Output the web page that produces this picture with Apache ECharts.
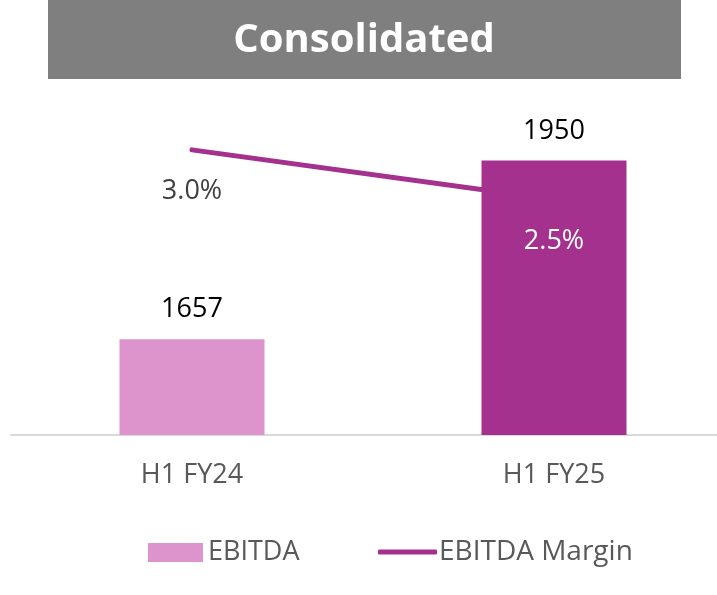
<!DOCTYPE html>
<html>
<head>
<meta charset="utf-8">
<script src="https://cdn.jsdelivr.net/npm/echarts@6/dist/echarts.min.js"></script>
<style>html,body{margin:0;padding:0;background:#fff}#c{width:717px;height:595px}</style>
</head>
<body>
<div id="c"></div>
<script>
var categories = ['H1 FY24', 'H1 FY25'];
var ebitda = [1657, 1950];
var ebitdaMargin = [3.0, 2.5];
var titleText = 'Consolidated';

var FONT = '"Open Sans", sans-serif';
var barColors = ['#DD94CC', '#A5318F'];
var lineColor = '#A5318F';
var marginLabelColors = ['#404040', '#ffffff'];

var chart = echarts.init(document.getElementById('c'));
chart.setOption({
  animation: false,
  graphic: [
    { type: 'rect', left: 48, top: 0, shape: { width: 633, height: 79 }, style: { fill: '#7F7F7F' } },
    { type: 'text', x: 364, y: 41, style: { text: titleText, fill: '#ffffff', font: 'bold 40px ' + FONT,
      textAlign: 'center', textVerticalAlign: 'middle' } }
  ],
  grid: { left: 11, width: 724, top: 130, bottom: 160, containLabel: false, outerBoundsMode: 'none' },
  legend: [
    { data: [{ name: 'EBITDA', icon: 'rect' }], left: 143, top: 534, itemWidth: 55, itemHeight: 19, itemGap: 0,
      textStyle: { color: '#595959', fontSize: 27, fontFamily: FONT, padding: [0,0,0,0] } },
    { data: [{ name: 'EBITDA Margin', icon: 'roundRect', itemStyle: { color: lineColor } }], left: 373, top: 533,
      itemWidth: 59, itemHeight: 5, itemGap: 0,
      textStyle: { color: '#595959', fontSize: 28, fontFamily: FONT, padding: [0,0,0,-3] } }
  ],
  xAxis: {
    type: 'category', data: categories,
    axisLine: { lineStyle: { color: '#D9D9D9', width: 2 } },
    axisTick: { show: false },
    axisLabel: { color: '#595959', fontSize: 27, fontFamily: FONT, margin: 27 }
  },
  yAxis: [
    { type: 'value', min: 1500, max: 2000, show: false, splitLine: { show: false } },
    { type: 'value', min: 0.13, max: 3.2, show: false, splitLine: { show: false } }
  ],
  series: [
    {
      name: 'EBITDA', type: 'bar', barWidth: 145, z: 3,
      itemStyle: { color: barColors[0] },
      data: ebitda.map(function (v, i) { return { value: v, itemStyle: { color: barColors[i] } }; }),
      label: { show: true, position: 'top', distance: 16, color: '#000', fontSize: 27, fontFamily: FONT }
    },
    {
      name: 'EBITDA Margin', type: 'line', yAxisIndex: 1, z: 2,
      symbol: 'none',
      lineStyle: { color: lineColor, width: 5, cap: 'round' },
      itemStyle: { color: lineColor },
      data: ebitdaMargin
    },
    {
      name: 'EBITDA Margin labels', type: 'scatter', yAxisIndex: 1, z: 5,
      symbolSize: 0, silent: true,
      itemStyle: { opacity: 1, color: lineColor },
      data: ebitdaMargin.map(function (v, i) {
        return { value: v, label: { color: marginLabelColors[i] } };
      }),
      label: { show: true, position: 'bottom', distance: 28, fontSize: 27, fontFamily: FONT, opacity: 1,
        formatter: function (p) { return p.value.toFixed(1) + '%'; } }
    }
  ]
});
</script>
</body>
</html>
